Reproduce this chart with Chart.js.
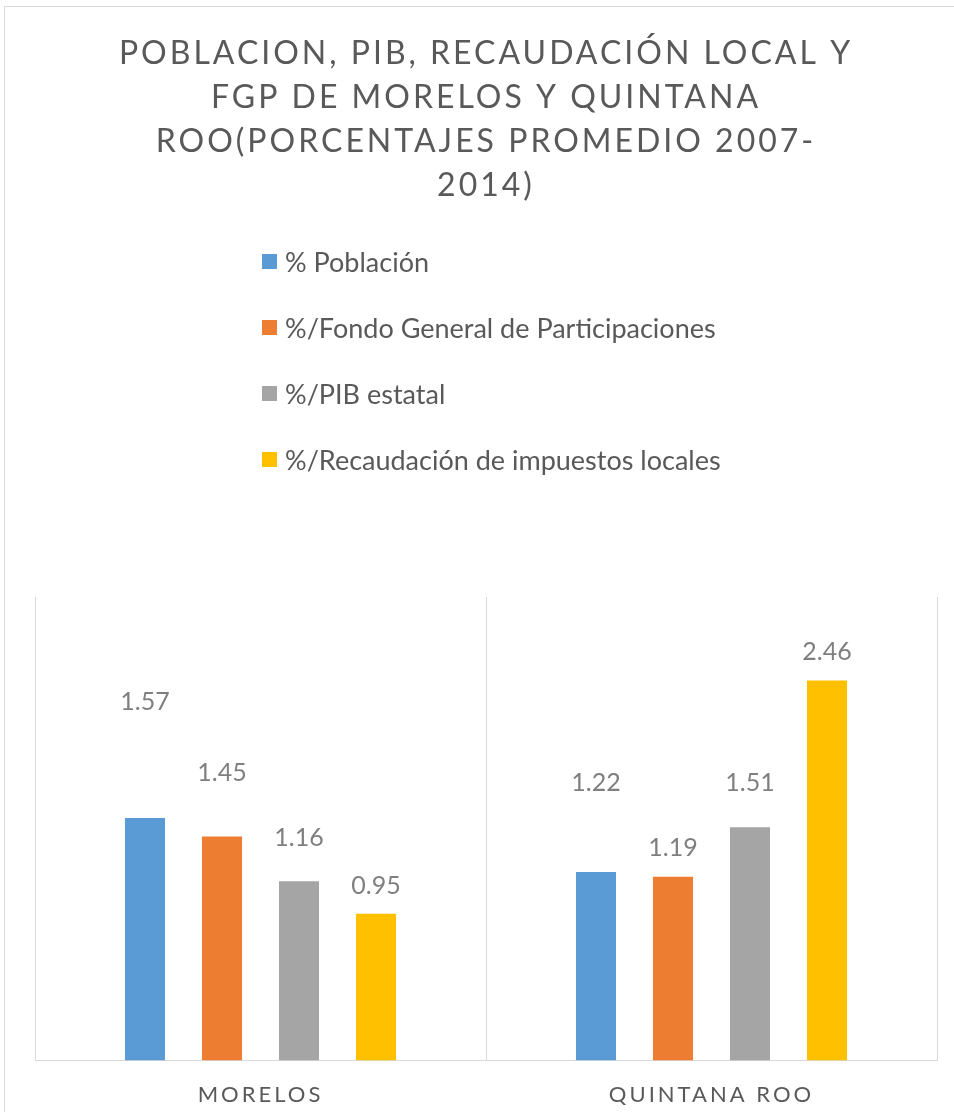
<!DOCTYPE html>
<html lang="es">
<head>
    <meta charset="UTF-8">
    <title>Poblacion, PIB, recaudacion local y FGP</title>
    <script src="https://cdn.jsdelivr.net/npm/chart.js"></script>
    <style>
        html, body { margin: 0; padding: 0; background: #fff; overflow: hidden; }
        #frame { position: absolute; left: 4px; top: 6px; width: 1000px; height: 1200px; border: 1px solid #d9d9d9; }
        #chart { position: absolute; left: 0; top: 0; }
    </style>
</head>
<body>
    <div id="frame"></div>
    <canvas id="chart" width="954" height="1112"></canvas>
    <script>
        // datos del grafico
        const estados = ['MORELOS', 'QUINTANA ROO'];
        const series = ['% Población', '%/Fondo General de Participaciones', '%/PIB estatal', '%/Recaudación de impuestos locales'];
        const poblacion = [1.57, 1.22];
        const fondoGeneral = [1.45, 1.19];
        const pibEstatal = [1.16, 1.51];
        const recaudacion = [0.95, 2.46];
        const titulo = ['POBLACION, PIB, RECAUDACIÓN LOCAL Y', 'FGP DE MORELOS Y QUINTANA', 'ROO(PORCENTAJES PROMEDIO 2007-', '2014)'];

        const colores = ['#5b9bd5', '#ed7d31', '#a5a5a5', '#ffc000'];
        // distancia (px) entre la barra y su etiqueta, como en el original
        const alturaEtiqueta = [[116, 89], [64, 29], [43, 44], [28, 29]];

        const valores = [poblacion, fondoGeneral, pibEstatal, recaudacion];

        // titulo y categorias con letras espaciadas
        const espaciado = {
            id: 'espaciado',
            beforeDraw(chart) {
                chart.ctx.letterSpacing = '3px';
            }
        };

        const etiquetas = {
            id: 'etiquetas',
            afterDatasetsDraw(chart) {
                const ctx = chart.ctx;
                ctx.save();
                ctx.letterSpacing = '0px';
                ctx.font = '25px Lato';
                ctx.fillStyle = '#7f7f7f';
                ctx.textAlign = 'center';
                ctx.textBaseline = 'middle';
                chart.data.datasets.forEach((ds, i) => {
                    chart.getDatasetMeta(i).data.forEach((bar, j) => {
                        ctx.fillText(ds.data[j].toFixed(2), bar.x, bar.y - alturaEtiqueta[i][j]);
                    });
                });
                ctx.restore();
            }
        };

        const leyenda = {
            id: 'leyenda',
            afterDraw(chart) {
                const ctx = chart.ctx;
                ctx.save();
                ctx.letterSpacing = '0px';
                ctx.font = '27px Lato';
                ctx.textBaseline = 'middle';
                chart.data.datasets.forEach((ds, i) => {
                    const y = 262 + i * 66;
                    ctx.fillStyle = ds.backgroundColor;
                    ctx.fillRect(262, y - 8, 15, 15);
                    ctx.fillStyle = '#595959';
                    ctx.fillText(ds.label, 285, y + 1);
                });
                ctx.restore();
            }
        };

        new Chart(document.getElementById('chart'), {
            type: 'bar',
            data: {
                labels: estados,
                datasets: series.map((s, i) => ({
                    label: s,
                    data: valores[i],
                    backgroundColor: colores[i],
                    categoryPercentage: 0.683,
                    barPercentage: 0.52
                }))
            },
            options: {
                responsive: false,
                animation: false,
                layout: { padding: { left: 35, right: 17, top: 0, bottom: -17 } },
                plugins: {
                    legend: { display: false },
                    tooltip: { enabled: false },
                    title: {
                        display: true,
                        text: titulo,
                        color: '#595959',
                        font: { family: 'Lato', size: 32, weight: '400', lineHeight: 1.375 },
                        padding: { top: 32, bottom: 389 }
                    }
                },
                scales: {
                    x: {
                        grid: { color: '#d9d9d9', drawTicks: false, offset: true },
                        border: { color: '#d9d9d9' },
                        ticks: { color: '#595959', font: { family: 'Lato', size: 22 }, padding: 21 }
                    },
                    y: { display: false, min: 0, max: 3 }
                }
            },
            plugins: [espaciado, etiquetas, leyenda]
        });
    </script>
</body>
</html>
